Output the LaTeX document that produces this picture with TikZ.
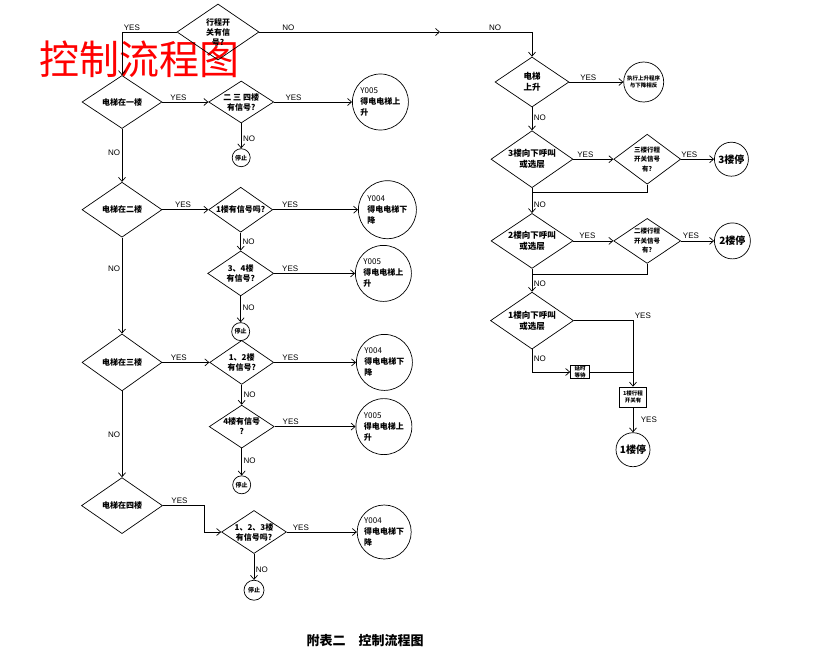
\documentclass[tikz,border=0pt]{standalone}
\usepackage{fontspec}
\setmainfont{Liberation Sans}
\newfontfamily\cjk{Noto Sans CJK SC}
\usetikzlibrary{arrows.meta,shapes.geometric,positioning}

\begin{document}
\begin{tikzpicture}[
  x=1pt, y=-1pt,
  every node/.style={font=\fontsize{8}{9}\selectfont},
  line/.style={line width=0.7pt},
  arr/.style={line, -{Straight Barb[length=4pt,width=7pt]}},
  dec/.style 2 args={diamond, draw, line width=0.7pt, inner sep=0pt,
                     minimum width=#1, minimum height=#2},
  outc/.style={circle, draw, line width=0.7pt, inner sep=0pt, minimum size=#1},
  stopc/.style={circle, draw, line width=0.7pt, inner sep=0pt, minimum size=#1,
                font=\cjk\bfseries\fontsize{6}{7}\selectfont},
  smallbox/.style={rectangle, draw, line width=0.7pt, inner sep=0pt, align=center,
                   font=\cjk\bfseries\fontsize{5.5}{6.5}\selectfont},
  dtxt/.style={font=\cjk\bfseries\fontsize{8}{10}\selectfont, align=center, inner sep=0pt},
  rtxt/.style={font=\cjk\bfseries\fontsize{8.5}{11}\selectfont, align=center, inner sep=0pt},
  ktxt/.style={font=\cjk\bfseries\fontsize{6.5}{9.5}\selectfont, align=center, inner sep=0pt},
  ctxt/.style={font=\cjk\fontsize{8}{11}\selectfont, align=left, inner sep=0pt},
  ptxt/.style={font=\cjk\bfseries\fontsize{10}{11}\selectfont, inner sep=0pt},
  lab/.style={font=\fontsize{8}{9}\selectfont, inner sep=1.5pt},
]
\useasboundingbox (0,0) rectangle (830,654);

%% title (drawn first, the lines run over it)
\node[font=\cjk\fontsize{40}{40}\selectfont, text=red] (title) at (139,59) {控制流程图};

%% left part: where is the car
\node[dec={82pt}{56pt}, label={[dtxt]center:行程开\\关有信\\号?}] (S0) at (218,32) {};

\node[dec={80pt}{53pt}, label={[dtxt]center:电梯在一楼}] (F1) at (122,102) {};
\node[dec={65pt}{42pt}, right=46pt of F1, label={[dtxt]center:二 三 四楼\\有信号?}] (Q1) {};
\node[outc=56pt, right=78pt of Q1, label={[ctxt]center:Y005\\\textbf{得电电梯上}\\\textbf{升}}] (U1) {};
\node[stopc=18pt, below=25pt of Q1] (T1) {停止};

\node[dec={80pt}{55pt}, below=53pt of F1, label={[dtxt]center:电梯在二楼}] (F2) {};
\node[dec={64pt}{45pt}, right=46pt of F2, label={[dtxt]center:1楼有信号吗?}] (Q2a) {};
\node[outc=58pt, right=85pt of Q2a, label={[ctxt]center:Y004\\\textbf{得电电梯下}\\\textbf{降}}] (D2) {};
\node[dec={66pt}{45pt}, below=18pt of Q2a, label={[dtxt]center:3、4楼\\有信号?}] (Q2b) {};
\node[outc=56pt, right=81pt of Q2b, label={[ctxt]center:Y005\\\textbf{得电电梯上}\\\textbf{升}}] (U2) {};
\node[stopc=18pt, below=26pt of Q2b] (T2) {停止};

\node[dec={80pt}{57pt}, below=96pt of F2, label={[dtxt]center:电梯在三楼}] (F3) {};
\node[dec={64pt}{44pt}, right=47pt of F3, label={[dtxt]center:1、2楼\\有信号?}] (Q3a) {};
\node[outc=56pt, right=82pt of Q3a, label={[ctxt]center:Y004\\\textbf{得电电梯下}\\\textbf{降}}] (D3) {};
\node[dec={65pt}{43pt}, below=20pt of Q3a, label={[dtxt]center:4楼有信号\\?}] (Q3b) {};
\node[outc=56pt, right=81pt of Q3b, label={[ctxt]center:Y005\\\textbf{得电电梯上}\\\textbf{升}}] (U3) {};
\node[stopc=18pt, below=27pt of Q3b] (T3) {停止};

\node[dec={81pt}{56pt}, below=86pt of F3, label={[dtxt]center:电梯在四楼}] (F4) {};
\node[dec={65pt}{43pt}, label={[dtxt]center:1、2、3楼\\有信号吗?}] (Q4) at (254,532) {};
\node[outc=54pt, right=70pt of Q4, label={[ctxt]center:Y004\\\textbf{得电电梯下}\\\textbf{降}}] (D4) {};
\node[stopc=20pt, below=26pt of Q4] (T4) {停止};

%% right part: car going up / down calls
\node[dec={74pt}{50pt}, label={[rtxt]center:电梯\\上升}] (R0) at (532,82) {};
\node[outc=40pt, right=54pt of R0,
      label={[font=\cjk\bfseries\fontsize{5.5}{7}\selectfont, align=center, inner sep=0pt]center:执行上升程序\\与下降相反}] (RC) {};

\node[dec={82pt}{57pt}, below=23pt of R0, label={[rtxt]center:3楼向下呼叫\\或选层}] (R3) {};
\node[dec={67pt}{50pt}, right=40pt of R3, label={[ktxt]center:三楼行程\\开关信号\\有?}] (K3) {};
\node[outc=34pt, right=33pt of K3, label={[ptxt]center:3楼停}] (P3) {};

\node[dec={82pt}{55pt}, below=25pt of R3, label={[rtxt]center:2楼向下呼叫\\或选层}] (R2) {};
\node[dec={67pt}{45pt}, right=40pt of R2, label={[ktxt]center:二楼行程\\开关信号\\有?}] (K2) {};
\node[outc=36pt, right=33pt of K2, label={[ptxt]center:2楼停}] (P2) {};

\node[dec={83pt}{57pt}, below=23pt of R2, label={[rtxt]center:1楼向下呼叫\\或选层}] (R1) {};
\node[smallbox, minimum width=19pt, minimum height=13pt] (W1) at (580,372) {延时\\等待};
\node[smallbox, minimum width=27pt, minimum height=20pt] (K1) at (633,397) {1楼行程\\开关有};
\node[outc=34pt, below=25pt of K1, label={[ptxt]center:1楼停}] (P1) {};

\node[font=\cjk\bfseries\fontsize{13}{13}\selectfont] (cap) at (365,641) {附表二\quad 控制流程图};

%% connectors, left part
\coordinate (nomid) at (440,32);
\draw[arr] (S0.west) -| node[lab, pos=.5, above right]{YES} (F1.north);
\draw[arr] (S0.east) -- node[lab, above, pos=.16]{NO} (nomid);
\draw[arr] (nomid) -- node[lab, above, pos=.6]{NO} (nomid -| R0.north) -- (R0.north);

\draw[arr] (F1.east) -- node[lab, above, pos=.35]{YES} (Q1.west);
\draw[arr] (Q1.east) -- node[lab, above, pos=.25]{YES} (U1.west);
\draw[arr] (Q1.south) -- node[lab, right, pos=.6]{NO} (T1.north);
\draw[arr] (F1.south) -- node[lab, left, pos=.45]{NO} (F2.north);

\draw[arr] (F2.east) -- node[lab, above, pos=.45]{YES} (Q2a.west);
\draw[arr] (Q2a.east) -- node[lab, above, pos=.2]{YES} (D2.west);
\draw[arr] (Q2a.south) -- node[lab, right, pos=.5]{NO} (Q2b.north);
\draw[arr] (Q2b.east) -- node[lab, above, pos=.2]{YES} (U2.west);
\draw[arr] (Q2b.south) -- node[lab, right, pos=.45]{NO} (T2.north);
\draw[arr] (F2.south) -- node[lab, left, pos=.33]{NO} (F3.north);

\draw[arr] (F3.east) -- node[lab, above, pos=.35]{YES} (Q3a.west);
\draw[arr] (Q3a.east) -- node[lab, above, pos=.2]{YES} (D3.west);
\draw[arr] (Q3a.south) -- node[lab, right, pos=.5]{NO} (Q3b.north);
\draw[arr] (Q3b.east) -- node[lab, above, pos=.2]{YES} (U3.west);
\draw[arr] (Q3b.south) -- node[lab, right, pos=.45]{NO} (T3.north);
\draw[arr] (F3.south) -- node[lab, left, pos=.5]{NO} (F4.north);

\draw[arr] (F4.east) -- node[lab, above, pos=.4]{YES} ++(41.5,0) |- (Q4.west);
\draw[arr] (Q4.east) -- node[lab, above, pos=.2]{YES} (D4.west);
\draw[arr] (Q4.south) -- node[lab, right, pos=.6]{NO} (T4.north);

%% connectors, right part
\draw[arr] (R0.east) -- node[lab, above, pos=.35]{YES} (RC.west);
\draw[arr] (R0.south) -- node[lab, right, pos=.45]{NO} (R3.north);

\draw[arr] (R3.east) -- node[lab, above, pos=.3]{YES} (K3.west);
\draw[arr] (K3.east) -- node[lab, above, pos=.25]{YES} (P3.west);
\draw[line] (K3.south) -- ++(0,8) -| (R3.south);
\draw[arr] (R3.south) -- node[lab, right, pos=.65]{NO} (R2.north);

\draw[arr] (R2.east) -- node[lab, above, pos=.35]{YES} (K2.west);
\draw[arr] (K2.east) -- node[lab, above, pos=.3]{YES} (P2.west);
\draw[line] (K2.south) -- ++(0,11) -| (R2.south);
\draw[arr] (R2.south) -- node[lab, right, pos=.65]{NO} (R1.north);

\draw[arr] (R1.east) -| node[lab, pos=.5, above right]{YES} (K1.north);
\draw[arr] (R1.south) |- node[lab, right, pos=.2]{NO} (W1.west);
\draw[line] (W1.east) -- (W1.east -| K1);
\draw[arr] (K1.south) -- node[lab, right, pos=.5, xshift=6pt]{YES} (P1.north);

\end{tikzpicture}
\end{document}
